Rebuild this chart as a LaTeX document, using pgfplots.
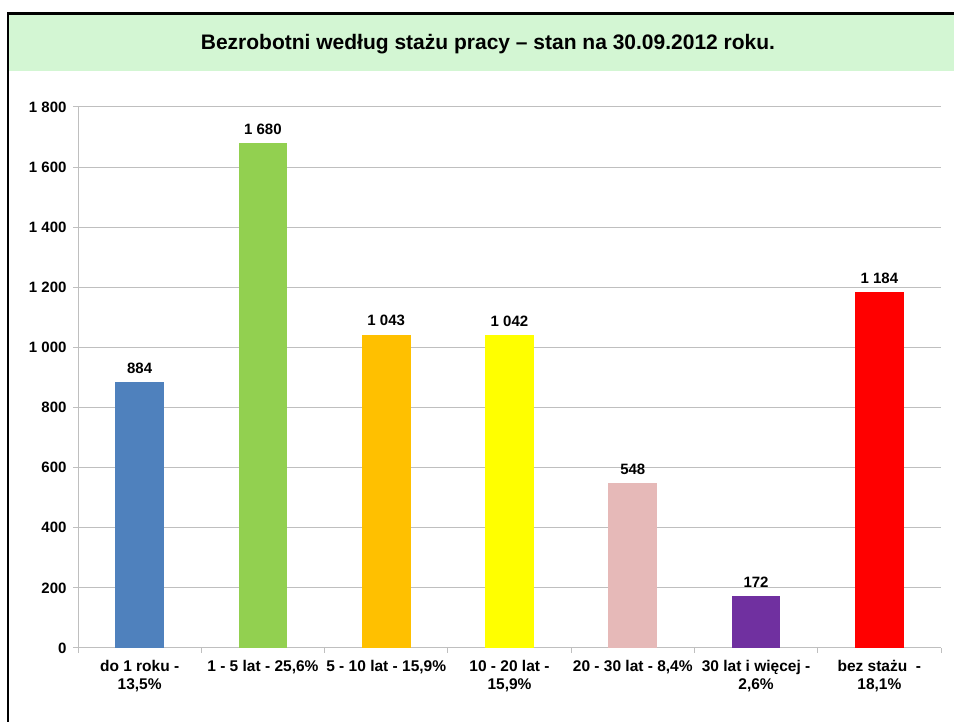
\documentclass[border=0pt]{standalone}
\usepackage{pgfplots}
\pgfplotsset{compat=1.18}
\usepackage{fontspec}
\setmainfont{Liberation Sans}
\definecolor{cblue}{HTML}{4F81BD}
\definecolor{cgreen}{HTML}{92D050}
\definecolor{corange}{HTML}{FFC000}
\definecolor{cyellow}{HTML}{FFFF00}
\definecolor{cpink}{HTML}{E6B9B8}
\definecolor{cpurple}{HTML}{7030A0}
\definecolor{cred}{HTML}{FF0000}
\definecolor{tgreen}{HTML}{D3F6D3}
\definecolor{gridgray}{HTML}{BFBFBF}
\begin{document}
\begin{tikzpicture}
\useasboundingbox (0pt,0pt) rectangle (954pt,722pt);
\fill[tgreen] (8pt,651pt) rectangle (960pt,708pt);
\draw[line width=2.5pt] (8pt,-5pt) -- (8pt,708.3pt) -- (960pt,708.3pt);
\node[anchor=base, inner sep=0pt, font=\fontsize{21}{24}\selectfont\bfseries] at (488pt,672pt) {Bezrobotni według stażu pracy – stan na 30.09.2012 roku.};
\begin{axis}[
  at={(78pt,74pt)}, anchor=south west,
  scale only axis, width=863pt, height=541pt,
  xmin=-0.5, xmax=6.5, ymin=0, ymax=1800,
  axis x line*=bottom, axis y line*=left,
  axis line style={gridgray, line width=1pt},
  ymajorgrids, grid style={gridgray, line width=1pt},
  ytick={0,200,...,1800},
  yticklabels={0,200,400,600,800,1 000,1 200,1 400,1 600,1 800},
  ytick style={gridgray, line width=1pt},
  tick align=outside, major tick length=5pt,
  xtick={0,...,6},
  xtick style={draw=none},
  xticklabels={{do 1 roku -\\13,5\%},{1 - 5 lat - 25,6\%},{5 - 10 lat - 15,9\%},{10 - 20 lat -\\15,9\%},{20 - 30 lat - 8,4\%},{30 lat i więcej -\\2,6\%},{bez stażu\ \ -\\18,1\%}},
  xticklabel style={align=center, font=\fontsize{15.5}{18}\selectfont\bfseries, yshift=-4pt},
  yticklabel style={font=\fontsize{15}{17}\selectfont\bfseries, xshift=-3pt},
  extra x ticks={-0.5,0.5,...,6.5},
  extra x tick labels={},
  extra x tick style={grid=none, xtick style={draw=gridgray, line width=1pt}, tick align=outside, major tick length=5pt},
  ybar, bar width=48.7pt, bar shift=0pt,
  point meta=explicit symbolic,
  nodes near coords,
  every node near coord/.append style={font=\fontsize{15}{17}\selectfont\bfseries, yshift=5pt},
  clip=false,
]
\addplot[fill=cblue, draw=none] coordinates {(0,884) [884]};
\addplot[fill=cgreen, draw=none] coordinates {(1,1680) [1 680]};
\addplot[fill=corange, draw=none] coordinates {(2,1043) [1 043]};
\addplot[fill=cyellow, draw=none] coordinates {(3,1042) [1 042]};
\addplot[fill=cpink, draw=none] coordinates {(4,548) [548]};
\addplot[fill=cpurple, draw=none] coordinates {(5,172) [172]};
\addplot[fill=cred, draw=none] coordinates {(6,1184) [1 184]};
\end{axis}
\end{tikzpicture}
\end{document}
